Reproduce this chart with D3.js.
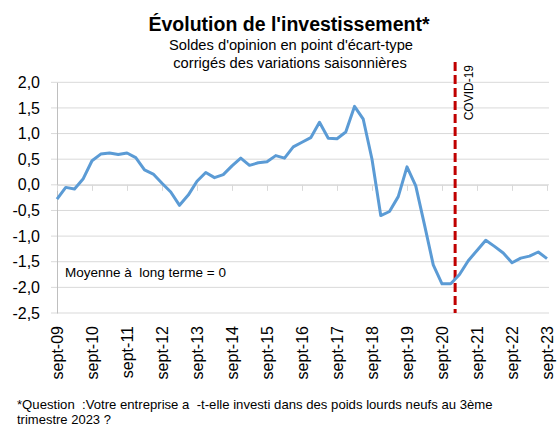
<!DOCTYPE html>
<html>
<head>
<meta charset="utf-8">
<script src="https://cdn.jsdelivr.net/npm/d3@7"></script>
<style>
    body { margin: 0; background: #fff; }
    svg { display: block; font-family: Arial, "Liberation Sans", sans-serif; }
</style>
</head>
<body>
<svg id="chart" width="557" height="428"></svg>
<script>
// quarterly observations, sept-09 .. sept-23
const quarters = [
    "sept-09", "déc-09", "mars-10", "juin-10", "sept-10", "déc-10", "mars-11", "juin-11",
    "sept-11", "déc-11", "mars-12", "juin-12", "sept-12", "déc-12", "mars-13", "juin-13",
    "sept-13", "déc-13", "mars-14", "juin-14", "sept-14", "déc-14", "mars-15", "juin-15",
    "sept-15", "déc-15", "mars-16", "juin-16", "sept-16", "déc-16", "mars-17", "juin-17",
    "sept-17", "déc-17", "mars-18", "juin-18", "sept-18", "déc-18", "mars-19", "juin-19",
    "sept-19", "déc-19", "mars-20", "juin-20", "sept-20", "déc-20", "mars-21", "juin-21",
    "sept-21", "déc-21", "mars-22", "juin-22", "sept-22", "déc-22", "mars-23", "juin-23",
    "sept-23"
];

const investissement = [
    -0.28, -0.05, -0.08, 0.12, 0.47, 0.60, 0.62, 0.59,
    0.62, 0.53, 0.29, 0.21, 0.03, -0.14, -0.40, -0.20,
    0.07, 0.24, 0.14, 0.20, 0.37, 0.52, 0.38, 0.43,
    0.45, 0.57, 0.52, 0.74, 0.83, 0.92, 1.22, 0.91,
    0.90, 1.03, 1.53, 1.28, 0.50, -0.60, -0.52, -0.23,
    0.35, -0.02, -0.78, -1.56, -1.93, -1.93, -1.75, -1.48,
    -1.28, -1.08, -1.20, -1.33, -1.52, -1.43, -1.39, -1.31,
    -1.44
];

const tickLabels = ["sept-09", "sept-10", "sept-11", "sept-12", "sept-13", "sept-14", "sept-15",
    "sept-16", "sept-17", "sept-18", "sept-19", "sept-20", "sept-21", "sept-22", "sept-23"];

const yTicks = [2.0, 1.5, 1.0, 0.5, 0.0, -0.5, -1.0, -1.5, -2.0, -2.5];

// covid marker sits between déc-20 and mars-21 on the category axis
const covidPosition = 45.5;

let svg = d3.select("#chart");

let x = d3.scaleLinear()
    .domain([0, quarters.length - 1])
    .range([57, 547]);

let y = d3.scaleLinear()
    .domain([-2.5, 2.0])
    .range([313, 82.3]);

let fmt = v => d3.format(".1f")(v).replace(".", ",").replace("−", "-");

// title
svg.append("text")
    .attr("x", 289).attr("y", 31)
    .attr("text-anchor", "middle")
    .style("font-size", "19.5px")
    .style("font-weight", "bold")
    .text("Évolution de l'investissement*");

svg.append("text")
    .attr("x", 291).attr("y", 50)
    .attr("text-anchor", "middle")
    .style("font-size", "14.7px")
    .text("Soldes d'opinion en point d'écart-type");

svg.append("text")
    .attr("x", 290).attr("y", 68)
    .attr("text-anchor", "middle")
    .style("font-size", "14.7px")
    .text("corrigés des variations saisonnières");

// gridlines
svg.append("g")
    .selectAll("line")
    .data(yTicks)
    .enter()
    .append("line")
    .attr("x1", 51).attr("x2", 549)
    .attr("y1", d => y(d)).attr("y2", d => y(d))
    .attr("stroke", "#d9d9d9")
    .attr("stroke-width", 1);

// y axis
let yAxis = d3.axisLeft(y)
    .tickValues(yTicks)
    .tickFormat(fmt)
    .tickSize(0)
    .tickPadding(17);

let gy = svg.append("g")
    .attr("transform", "translate(57,0)")
    .call(yAxis);
gy.select(".domain").attr("stroke", "#bfbfbf");
gy.selectAll("text")
    .style("font-size", "16px")
    .style("font-family", "Arial, 'Liberation Sans', sans-serif")
    .attr("fill", "#000");

// category axis crossing at zero, labels at the bottom
let tickIndex = tickLabels.map(t => quarters.indexOf(t));

let gx = svg.append("g")
    .attr("transform", `translate(0,${y(0)})`)
    .call(d3.axisBottom(x).tickValues(tickIndex).tickFormat("").tickSizeInner(6).tickSizeOuter(0));
gx.select(".domain").attr("stroke", "#d9d9d9");
gx.selectAll(".tick line").attr("stroke", "#d9d9d9");

svg.append("g")
    .selectAll("text")
    .data(tickLabels)
    .enter()
    .append("text")
    .attr("transform", d => `translate(${x(quarters.indexOf(d))},326) rotate(-90)`)
    .attr("text-anchor", "end")
    .attr("dy", "0.36em")
    .style("font-size", "16px")
    .text(d => d);

// covid marker
svg.append("line")
    .attr("x1", x(covidPosition)).attr("x2", x(covidPosition))
    .attr("y1", 62).attr("y2", 313)
    .attr("stroke", "#c00000")
    .attr("stroke-width", 3)
    .attr("stroke-dasharray", "9,4");

svg.append("text")
    .attr("transform", `translate(${x(covidPosition) + 18},65) rotate(-90)`)
    .attr("text-anchor", "end")
    .style("font-size", "12px")
    .text("COVID-19");

// series
let line = d3.line()
    .x((d, i) => x(i))
    .y(d => y(d));

svg.append("path")
    .datum(investissement)
    .attr("d", line)
    .attr("fill", "none")
    .attr("stroke", "#5b9bd5")
    .attr("stroke-width", 3)
    .attr("stroke-linejoin", "round");

svg.append("text")
    .attr("x", 65).attr("y", 277)
    .style("font-size", "13.5px")
    .style("white-space", "pre")
    .text("Moyenne à  long terme = 0");

// footnote
svg.append("text")
    .attr("x", 17).attr("y", 409)
    .style("font-size", "13.15px")
    .style("white-space", "pre")
    .text("*Question  :Votre entreprise a  -t-elle investi dans des poids lourds neufs au 3ème");

svg.append("text")
    .attr("x", 17).attr("y", 424)
    .style("font-size", "13px")
    .text("trimestre 2023 ?");
</script>
</body>
</html>
